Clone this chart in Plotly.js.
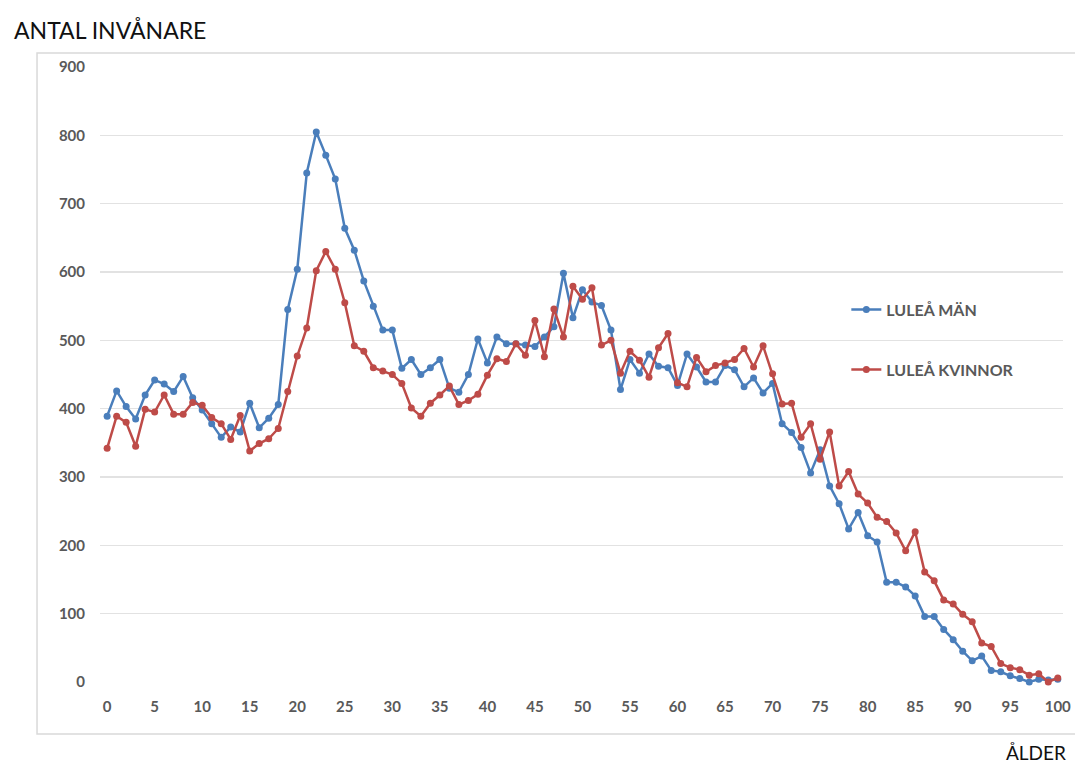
<!DOCTYPE html>
<html>
<head>
<meta charset="utf-8">
<script src="https://cdn.plot.ly/plotly-3.0.1.min.js"></script>
<style>html,body{margin:0;padding:0;background:#fff;}#chart{width:1075px;height:764px;}</style>
</head>
<body>
<div id="chart"></div>
<script>
const ages = Array.from({length: 101}, (_, i) => i);
const menLabel = "LULEÅ MÄN";
const womenLabel = "LULEÅ KVINNOR";
const men = [389,426,403,385,420,442,436,425,447,416,
  398,378,358,373,366,408,372,386,406,545,
  604,745,805,771,736,664,632,587,550,515,
  515,459,472,450,460,472,430,424,450,502,
  467,505,495,495,493,491,505,520,598,533,
  574,556,551,515,428,472,452,480,462,460,
  434,480,461,439,439,463,457,432,445,423,
  437,378,365,343,306,340,287,261,224,248,
  214,205,146,146,139,126,96,96,77,62,
  45,31,38,17,15,9,5,0,4,3,4];
const women = [342,389,380,345,399,395,420,392,392,409,
  405,387,378,355,390,338,349,356,371,425,
  477,518,602,630,604,555,492,484,460,455,
  450,437,401,389,408,420,433,406,412,421,
  449,473,469,495,478,529,476,546,505,579,
  560,577,493,500,452,484,471,446,489,510,
  438,432,475,454,463,467,472,488,461,492,
  451,407,408,358,378,326,366,287,308,275,
  262,241,235,218,192,220,161,148,120,114,
  99,88,57,52,27,21,18,10,12,0,6];
const xTicks = [0,5,10,15,20,25,30,35,40,45,50,55,60,65,70,75,80,85,90,95,100];
const yTicks = [0,100,200,300,400,500,600,700,800,900];

const blue = '#4a7ebb';
const red = '#be4b48';
const font = 'Lato, "Open Sans", "DejaVu Sans", sans-serif';

const traces = [
  {x: ages, y: men, name: menLabel, type: 'scatter', mode: 'lines+markers',
   line: {color: blue, width: 2.5}, marker: {color: blue, size: 7},
   cliponaxis: false, legendgroup: 'm'},
  {x: ages, y: women, name: womenLabel, type: 'scatter', mode: 'lines+markers',
   line: {color: red, width: 2.5}, marker: {color: red, size: 7},
   cliponaxis: false, legendgroup: 'w'}
];

const layout = {
  width: 1075, height: 764,
  margin: {l: 100, r: 12, t: 67, b: 82},
  paper_bgcolor: '#ffffff', plot_bgcolor: '#ffffff',
  font: {family: font, color: '#595959'},
  xaxis: {range: [-0.75, 100.55], tickvals: xTicks, ticktext: xTicks.map(String),
    showgrid: false, zeroline: false, showline: false, ticks: '',
    ticklabelstandoff: 14, tickfont: {size: 15, color: '#595959', family: font, weight: 'bold'}},
  yaxis: {range: [0, 900], tickvals: yTicks, ticktext: yTicks.map(String),
    showgrid: true, gridcolor: '#e2e2e2', gridwidth: 1.5, zeroline: false, showline: false, ticks: '',
    ticklabelstandoff: 14, tickfont: {size: 15, color: '#595959', family: font, weight: 'bold'}},
  showlegend: true,
  legend: {x: 0.775, y: 0.633, xanchor: 'left', yanchor: 'top', bgcolor: 'rgba(255,255,255,0)',
    tracegroupgap: 36, itemwidth: 30,
    font: {size: 16, color: '#595959', family: font, weight: 'bold'}},
  shapes: [{type: 'rect', xref: 'paper', yref: 'paper',
    x0: -0.0654, x1: 1.1, y0: -0.0846, y1: 1.0228,
    line: {color: '#d9d9d9', width: 1.5}, layer: 'below'}],
  annotations: [
    {text: 'ANTAL INVÅNARE', xref: 'paper', yref: 'paper', x: -0.0914, y: 1.06,
     xanchor: 'left', yanchor: 'middle', showarrow: false,
     font: {size: 23, color: '#111111', family: font}},
    {text: 'ÅLDER', xref: 'paper', yref: 'paper', x: 1.005, y: -0.1145,
     xanchor: 'right', yanchor: 'middle', showarrow: false,
     font: {size: 19, color: '#111111', family: font}}
  ]
};

Plotly.newPlot('chart', traces, layout, {displayModeBar: false, staticPlot: true});
</script>
</body>
</html>
